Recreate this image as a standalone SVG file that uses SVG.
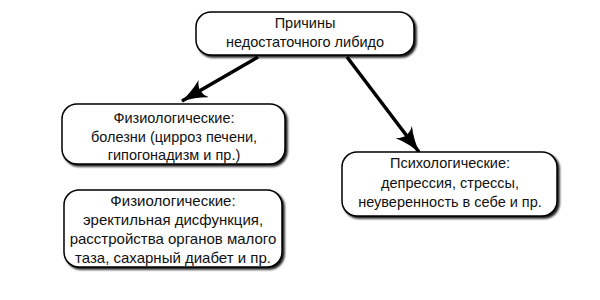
<svg xmlns="http://www.w3.org/2000/svg" width="600" height="300" viewBox="0 0 600 300">
<defs>
<filter id="sh" x="-10%" y="-20%" width="130%" height="150%">
<feGaussianBlur in="SourceAlpha" stdDeviation="1.2"/>
<feOffset dx="2" dy="2" result="b"/>
<feComponentTransfer><feFuncA type="linear" slope="0.9"/></feComponentTransfer>
<feMerge><feMergeNode/><feMergeNode in="SourceGraphic"/></feMerge>
</filter>
<marker id="ah" viewBox="0 0 26 20" refX="25" refY="10" markerWidth="26" markerHeight="20" markerUnits="userSpaceOnUse" orient="auto">
<path d="M0,0 Q12,7 26,10 Q12,13 0,20 Q8,10 0,0 Z" fill="#000"/>
</marker>
</defs>
<style>
rect.box{fill:#fff;stroke:#000;stroke-width:1.5;filter:url(#sh)}
text{font-family:"Liberation Sans",Arial,sans-serif;font-size:14.5px;fill:#111;text-anchor:middle}
.conn line{stroke:#000;stroke-width:3.5}
</style>
<rect width="600" height="300" fill="#fff"/>
<g class="conn">
<line x1="258" y1="57" x2="182" y2="101" marker-end="url(#ah)"/>
<line x1="347" y1="57" x2="419" y2="152" marker-end="url(#ah)"/>
</g>
<g id="root">
<rect class="box" x="196" y="12" width="218" height="43" rx="15"/>
<text x="305" y="28">Причины</text>
<text x="305" y="47">недостаточного либидо</text>
</g>
<g id="phys1">
<rect class="box" x="62" y="104" width="223" height="60" rx="15"/>
<text x="174" y="123">Физиологические:</text>
<text x="174" y="142">болезни (цирроз печени,</text>
<text x="174" y="160">гипогонадизм и пр.)</text>
</g>
<g id="psych">
<rect class="box" x="342" y="152" width="215" height="64" rx="15"/>
<text x="450" y="168">Психологические:</text>
<text x="450" y="188">депрессия, стрессы,</text>
<text x="450" y="207">неуверенность в себе и пр.</text>
</g>
<g id="phys2">
<rect class="box" x="64" y="190" width="218" height="77" rx="15"/>
<text x="173" y="206" style="font-size:15px">Физиологические:</text>
<text x="173" y="225" style="font-size:15px">эректильная дисфункция,</text>
<text x="173" y="244" style="font-size:15px">расстройства органов малого</text>
<text x="173" y="263" style="font-size:15px">таза, сахарный диабет и пр.</text>
</g>
</svg>
